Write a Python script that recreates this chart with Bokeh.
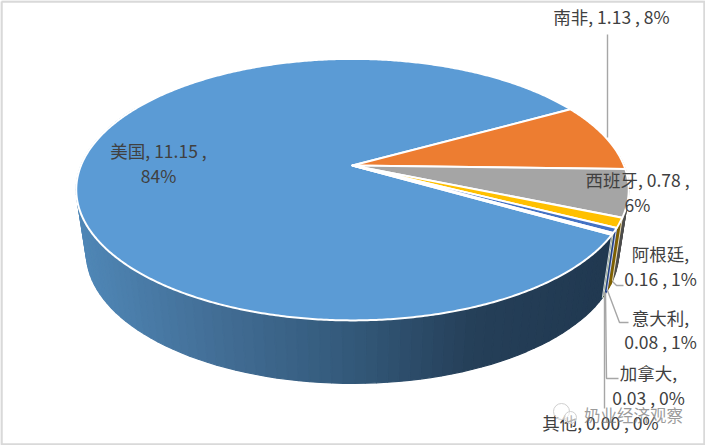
import math
from bokeh.plotting import figure
from bokeh.models import Range1d
from bokeh.core.properties import value
from bokeh.embed import file_html
from bokeh.resources import INLINE

# ---- data ----
categories = ["美国", "南非", "西班牙", "阿根廷", "意大利", "加拿大", "其他"]
values = [11.15, 1.13, 0.78, 0.16, 0.08, 0.03, 0.00]
percent_labels = ["84%", "8%", "6%", "1%", "1%", "0%", "0%"]

top_colors = ["#5b9bd5", "#ed7d31", "#a5a5a5", "#ffc000", "#4472c4", "#70ad47", "#255e91"]
side_colors = [None, "#8a4a1c", "#4d4d4d", "#7f6000", "#24408a", "#3f6428", "#16375a"]
ramp_x = [80, 230, 350, 470, 612]
ramp_rgb = [(0x50, 0x88, 0xb8), (0x41, 0x6c, 0x93), (0x33, 0x59, 0x7a), (0x25, 0x3f, 0x58), (0x20, 0x38, 0x50)]

# ---- pie geometry ----
START_DEG = 119.9
CX, CY = 352.0, 165.0
A, B, K = 271.5, 126.3, 0.1846
DEPTH, BASE_SCALE = 63.0, 266.0 / 276.0
TEXT = "#404040"
LEAD = "#a6a6a6"
FONT = value("Noto Sans CJK SC")


def top_pt(deg):
    t = math.radians(deg)
    u, v = math.sin(t), math.cos(t)
    w = 1 + K * v
    return CX + A * u / w, CY - B * v / w


def base_pt(deg):
    x, y = top_pt(deg)
    return CX + (x - CX) * BASE_SCALE, y + DEPTH


def ramp(x):
    x = min(max(x, ramp_x[0]), ramp_x[-1])
    for i in range(len(ramp_x) - 1):
        if x <= ramp_x[i + 1]:
            f = (x - ramp_x[i]) / (ramp_x[i + 1] - ramp_x[i])
            c = [round(ramp_rgb[i][j] + f * (ramp_rgb[i + 1][j] - ramp_rgb[i][j])) for j in range(3)]
            return "#%02x%02x%02x" % tuple(c)
    return "#203850"


total = sum(values)
spans = [v / total * 360 for v in values]
bounds = []
a0 = START_DEG
for s in spans:
    bounds.append((a0, a0 + s))
    a0 += s

p = figure(width=705, height=445, output_backend="svg", toolbar_location=None,
           x_range=Range1d(0, 705), y_range=Range1d(445, 0), min_border=0)
p.axis.visible = False
p.grid.visible = False
p.outline_line_color = None
p.background_fill_color = "#ffffff"

# light frame round the picture
p.line([1, 704, 704, 1, 1], [1, 1, 444, 444, 1], line_color="#d9d9d9", line_width=2.5)

# side wall strips
strips = []
for i, (a, b) in enumerate(bounds):
    steps = max(1, int(math.ceil((b - a) / 2)))
    for j in range(steps):
        d0 = a + (b - a) * j / steps
        d1 = a + (b - a) * (j + 1) / steps
        mid = ((d0 + d1) / 2) % 360
        if not (85 < mid < 300) or b <= a:
            continue
        p0, p1, q1, q0 = top_pt(d0), top_pt(d1), base_pt(d1), base_pt(d0)
        col = side_colors[i] or ramp((q0[0] + q1[0]) / 2)
        strips.append((p0[1] + q0[1], [p0[0], p1[0], q1[0], q0[0]], [p0[1], p1[1], q1[1], q0[1]], col))
strips.sort(key=lambda s: s[0])
cols = [s[3] for s in strips]
p.patches([s[1] for s in strips], [s[2] for s in strips], fill_color=cols, line_color=cols, line_width=1.2)

# white edges between the small walls
edge_x, edge_y = [], []
for a, b in bounds[1:-1]:
    if b % 360 > 85 and b % 360 < 300:
        edge_x.append([top_pt(b)[0], base_pt(b)[0]])
        edge_y.append([top_pt(b)[1], base_pt(b)[1]])
p.multi_line(edge_x, edge_y, line_color="#ffffff", line_width=0.8)

# top faces
for i, (a, b) in enumerate(bounds):
    if b <= a:
        continue
    n = max(2, int((b - a) * 2))
    pts = [top_pt(a + (b - a) * j / n) for j in range(n + 1)]
    xs = [CX] + [q[0] for q in pts]
    ys = [CY] + [q[1] for q in pts]
    p.patch(xs, ys, fill_color=top_colors[i], line_color="#ffffff", line_width=2, line_join="round")

# leader lines
leaders = [
    ([607, 607], [34, 137]),
    ([612, 616, 623], [281, 285, 285]),
    ([607, 619, 628], [290, 322, 322]),
    ([605, 606, 618], [292, 378, 378]),
    ([604, 604], [292, 408]),
]
for lx, ly in leaders:
    p.line(lx, ly, line_color=LEAD, line_width=1.4)

# labels
def lab(x, y, s):
    p.text([x], [y], text=[s], text_font=FONT, text_font_size="17.5px", text_color=TEXT,
           text_align="center", text_baseline="middle")

def num(i):
    return f"{values[i]:.2f} , {percent_labels[i]}"

lab(611, 16, f"{categories[1]}, {num(1)}")
lab(158, 150, f"{categories[0]}, {values[0]:.2f} ,")
lab(158, 175, percent_labels[0])
lab(637, 179, f"{categories[2]}, {values[2]:.2f} ,")
lab(637, 204, percent_labels[2])
lab(660, 253, f"{categories[3]},")
lab(660, 278, num(3))
lab(660, 317, f"{categories[4]},")
lab(660, 341, num(4))
lab(648, 372, f"{categories[5]},")
lab(648, 397, num(5))
lab(600, 422, f"{categories[6]}, {num(6)}")

# watermark
p.circle([561], [411], radius=8, fill_color="#ffffff", fill_alpha=0.6, line_color="#cfcfcf", line_width=1)
p.circle([570], [417], radius=6, fill_color="#ffffff", fill_alpha=0.6, line_color="#cfcfcf", line_width=1)
p.text([633], [414], text=["奶业经济观察"], text_font=FONT, text_font_size="16.5px", text_color="#7a7a7a",
       text_alpha=0.75, text_align="center", text_baseline="middle")

open("out.html", "w").write(file_html(p, INLINE))
